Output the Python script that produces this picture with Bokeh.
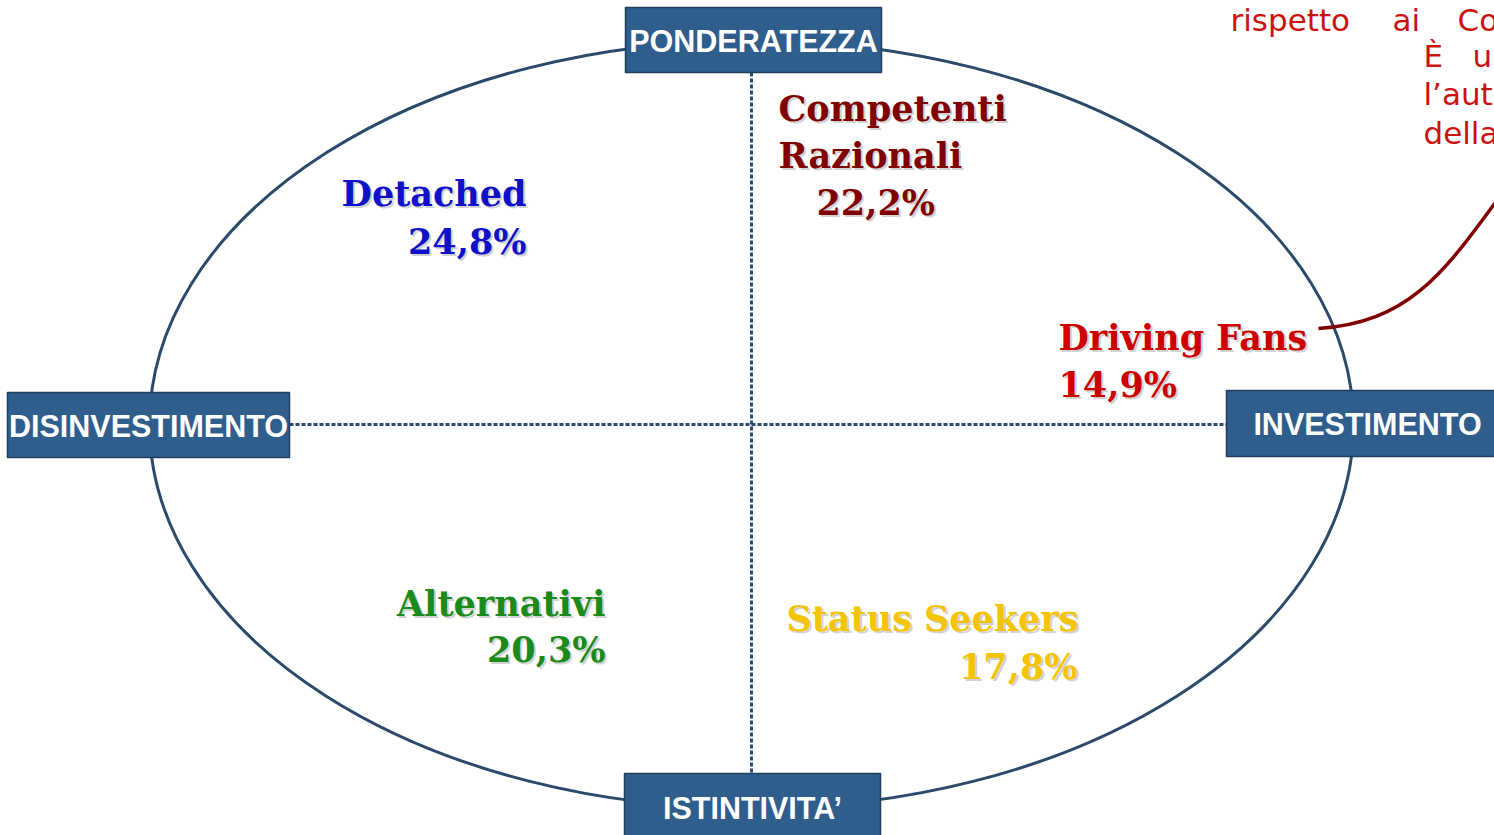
from bokeh.plotting import figure
from bokeh.models import Range1d, ColumnDataSource
from bokeh.core.properties import value
from bokeh.embed import file_html
from bokeh.resources import INLINE

# ---------------- data ----------------
segment_lines = [["Detached"], ["Competenti", "Razionali"], ["Driving Fans"], ["Alternativi"], ["Status Seekers"]]
segment_shares = ["24,8%", "22,2%", "14,9%", "20,3%", "17,8%"]
segment_colors = ["#1010C8", "#800000", "#CC0000", "#1A8A1A", "#F5C400"]

axis_labels = ["PONDERATEZZA", "DISINVESTIMENTO", "INVESTIMENTO", "ISTINTIVITA’"]

note_words = ["rispetto", "ai", "Co", "È", "un", "l’auto", "della"]

# ---------------- layout (reference pixel space) ----------------
W, H = 1494, 835
p = figure(width=W, height=H, output_backend="svg", toolbar_location=None,
           x_range=Range1d(0, W), y_range=Range1d(H, 0),
           min_border=0, background_fill_color="white", border_fill_color="white")
p.axis.visible = False
p.grid.visible = False
p.outline_line_color = None

# ellipse
p.ellipse(x=[751], y=[424], width=[1204], height=[768], fill_color=None,
          line_color="#2B4A6B", line_width=3)

# dotted axes
p.segment(x0=[751, 289], y0=[72, 424], x1=[751, 1226], y1=[773, 424],
          line_color="#2B4A6F", line_width=3, line_dash="4 2")

# connector curve
p.bezier(x0=[1318], y0=[328], x1=[1500], y1=[195], cx0=[1410], cy0=[322],
         cx1=[1445], cy1=[270], line_color="#800000", line_width=3.5)

# axis boxes
box_left = [625, 7, 1226, 624]
box_right = [881, 289, 1500, 880]
box_top = [7, 392, 390, 773]
box_bottom = [72, 457, 456, 845]
p.quad(left=box_left, right=box_right, top=box_top, bottom=box_bottom,
       fill_color="#2F5D8C", line_color="#1F3F60", line_width=1.5)
box_cx = [753, 148, 1367, 752]
box_cy = [40, 425, 423, 807]
p.text(x=box_cx, y=box_cy, text=axis_labels, text_color="white",
       text_font=value("Liberation Sans"), text_font_style="bold",
       text_font_size="30.5px", text_align="center", text_baseline="middle")

# segment labels
name_x = [526, 778, 1058, 605, 1078]
name_align = ["right", "left", "left", "right", "right"]
name_base = [193, 108, 337, 603, 618]
share_x = [526, 816, 1058, 605, 1077]
share_base = [241, 202, 384, 649, 666]
line_gap = 47

sx, sy, st, sc, sa = [], [], [], [], []
for i, lines in enumerate(segment_lines):
    for j, ln in enumerate(lines):
        sx.append(name_x[i]); sy.append(name_base[i] + j * line_gap)
        st.append(ln); sc.append(segment_colors[i]); sa.append(name_align[i])
    sx.append(share_x[i]); sy.append(share_base[i])
    st.append(segment_shares[i]); sc.append(segment_colors[i]); sa.append(name_align[i])

src = ColumnDataSource(dict(x=sx, y=sy, text=st, color=sc, align=sa))
p.text(x="x", y="y", text="text", source=src, text_color="#9A9A9A", text_alpha=0.45,
       x_offset=2, y_offset=2,
       text_font=value("DejaVu Serif"), text_font_style="bold", text_font_size="35px",
       text_align="align", text_baseline="alphabetic")
p.text(x="x", y="y", text="text", source=src, text_color="color",
       text_font=value("DejaVu Serif"), text_font_style="bold", text_font_size="35px",
       text_align="align", text_baseline="alphabetic")

# partial note text at top right
note_x = [1230, 1392, 1457, 1423, 1472, 1423, 1423]
note_y = [19, 19, 19, 55, 55, 93, 132]
p.text(x=note_x, y=note_y, text=note_words, text_color="#CC1111",
       text_font=value("DejaVu Sans"), text_font_size="31px",
       text_align="left", text_baseline="alphabetic")

open("out.html", "w").write(file_html(p, INLINE))
